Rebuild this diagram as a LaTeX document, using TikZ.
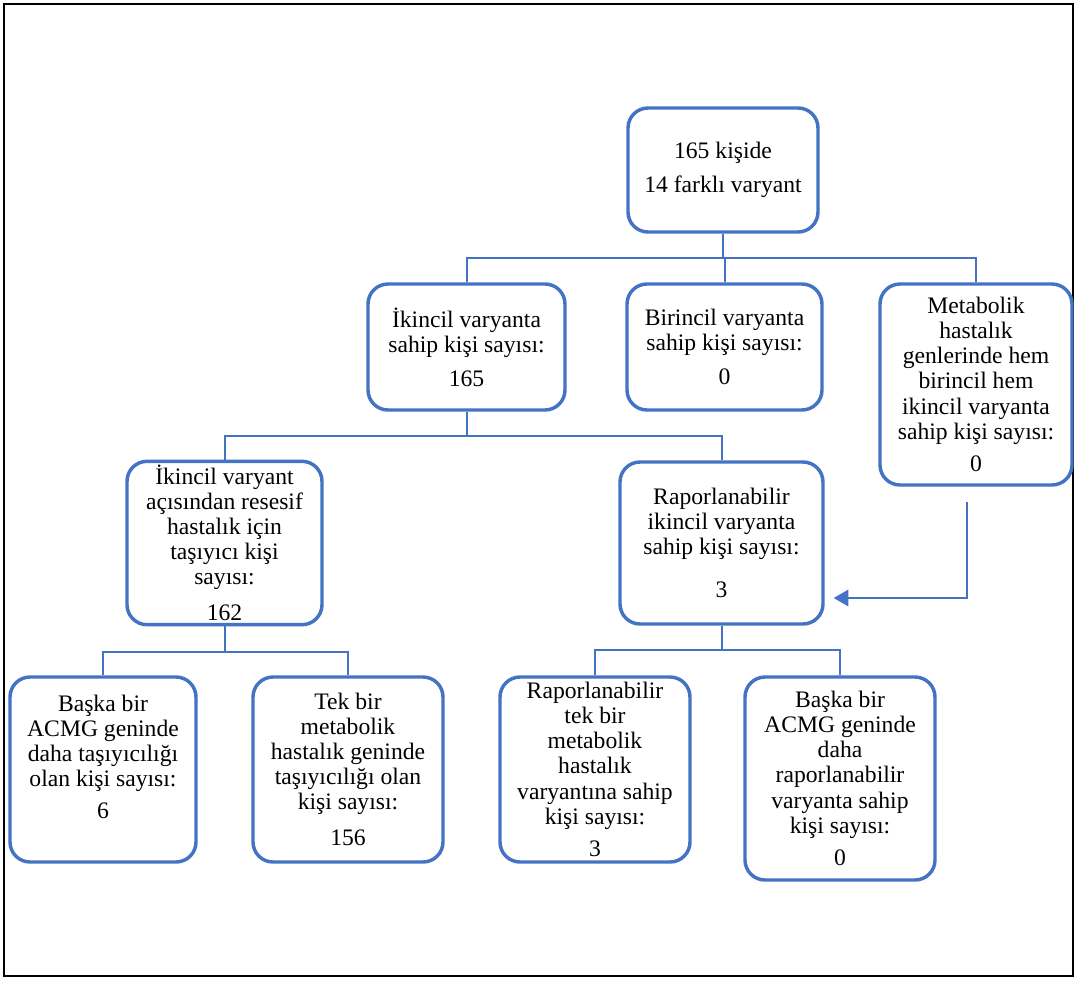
\documentclass[tikz,border=0pt]{standalone}
\usepackage{fontspec}
\setmainfont{Liberation Serif}
\usepackage{tikz}
\usetikzlibrary{arrows.meta, positioning, calc}

\definecolor{boxblue}{HTML}{4472C4}

\begin{document}
\begin{tikzpicture}[x=0.55pt, y=-0.55pt,
    box/.style={draw=boxblue, line width=1.9pt, rounded corners=11pt, fill=white,
        align=center, inner sep=2pt, font=\rmfamily\fontsize{13}{13.8}\selectfont},
    link/.style={draw=boxblue, line width=1.1pt}]
    \useasboundingbox (0,0) rectangle (1077,980);
    \draw[black, line width=1.1pt] (4,4) rectangle (1073,976);

    % Top level
    \node[box, minimum width=104.5pt, minimum height=68.2pt] (top) at (723,170)
        {165 kişide\\[5pt]14 farklı varyant};

    % Second level
    \node[box, minimum width=108.35pt, minimum height=69.3pt] (ikincil) at (466.5,347)
        {İkincil varyanta\\sahip kişi sayısı:\\[5pt]165};
    \node[box, minimum width=107.25pt, minimum height=69.3pt] (birincil) at (724.5,347)
        {Birincil varyanta\\sahip kişi sayısı:\\[5pt]0};
    \node[box, minimum width=105.6pt, minimum height=110.55pt] (metab) at (976,384.5)
        {Metabolik\\hastalık\\genlerinde hem\\birincil hem\\ikincil varyanta\\sahip kişi sayısı:\\[4pt]0};

    % Third level
    \node[box, minimum width=107.25pt, minimum height=89.1pt] (tasiyici) at (224.5,543)
        {İkincil varyant\\açısından resesif\\hastalık için\\taşıyıcı kişi\\sayısı:\\[6pt]162};
    \node[box, minimum width=111.65pt, minimum height=89.1pt] (rapor) at (721.5,543)
        {Raporlanabilir\\ikincil varyanta\\sahip kişi sayısı:\\[10pt]3};

    % Bottom level
    \node[box, minimum width=102.3pt, minimum height=101.75pt] (baskaA) at (103,769.5)
        {Başka bir\\ACMG geninde\\daha taşıyıcılığı\\olan kişi sayısı:\\[4pt]6\\\mbox{}};
    \node[box, minimum width=104.5pt, minimum height=101.75pt] (tekbir) at (348,769.5)
        {Tek bir\\metabolik\\hastalık geninde\\taşıyıcılığı olan\\kişi sayısı:\\[6pt]156};
    \node[box, minimum width=104.5pt, minimum height=101.75pt] (raptek) at (595,769.5)
        {Raporlanabilir\\tek bir\\metabolik\\hastalık\\varyantına sahip\\kişi sayısı:\\[4pt]3};
    \node[box, minimum width=104.5pt, minimum height=111.65pt] (baskaB) at (840,778.5)
        {Başka bir\\ACMG geninde\\daha\\raporlanabilir\\varyanta sahip\\kişi sayısı:\\[4pt]0};

    % Connectors
    \coordinate (j1) at (723,258);
    \coordinate (j2) at (466.5,436);
    \coordinate (j3) at (224.5,652);
    \coordinate (j4) at (721.5,650);
    \draw[link] (top.south) -- (j1);
    \draw[link] (ikincil.north) |- (j1) -| (metab.north);
    \draw[link] (birincil.north |- j1) -- (birincil.north);
    \draw[link] (ikincil.south) -- (j2);
    \draw[link] (tasiyici.north) |- (j2) -| (rapor.north);
    \draw[link] (tasiyici.south) -- (j3);
    \draw[link] (baskaA.north) |- (j3) -| (tekbir.north);
    \draw[link] (rapor.south) -- (j4);
    \draw[link] (raptek.north) |- (j4) -| (baskaB.north);

    % Arrow from the right box
    \coordinate (arrs) at ([shift={(-9,15)}]metab.south);
    \coordinate (arre) at ([shift={(9,55)}]rapor.east);
    \draw[link, -{Triangle[length=8pt, width=9pt]}] (arrs) |- (arre);
\end{tikzpicture}
\end{document}
